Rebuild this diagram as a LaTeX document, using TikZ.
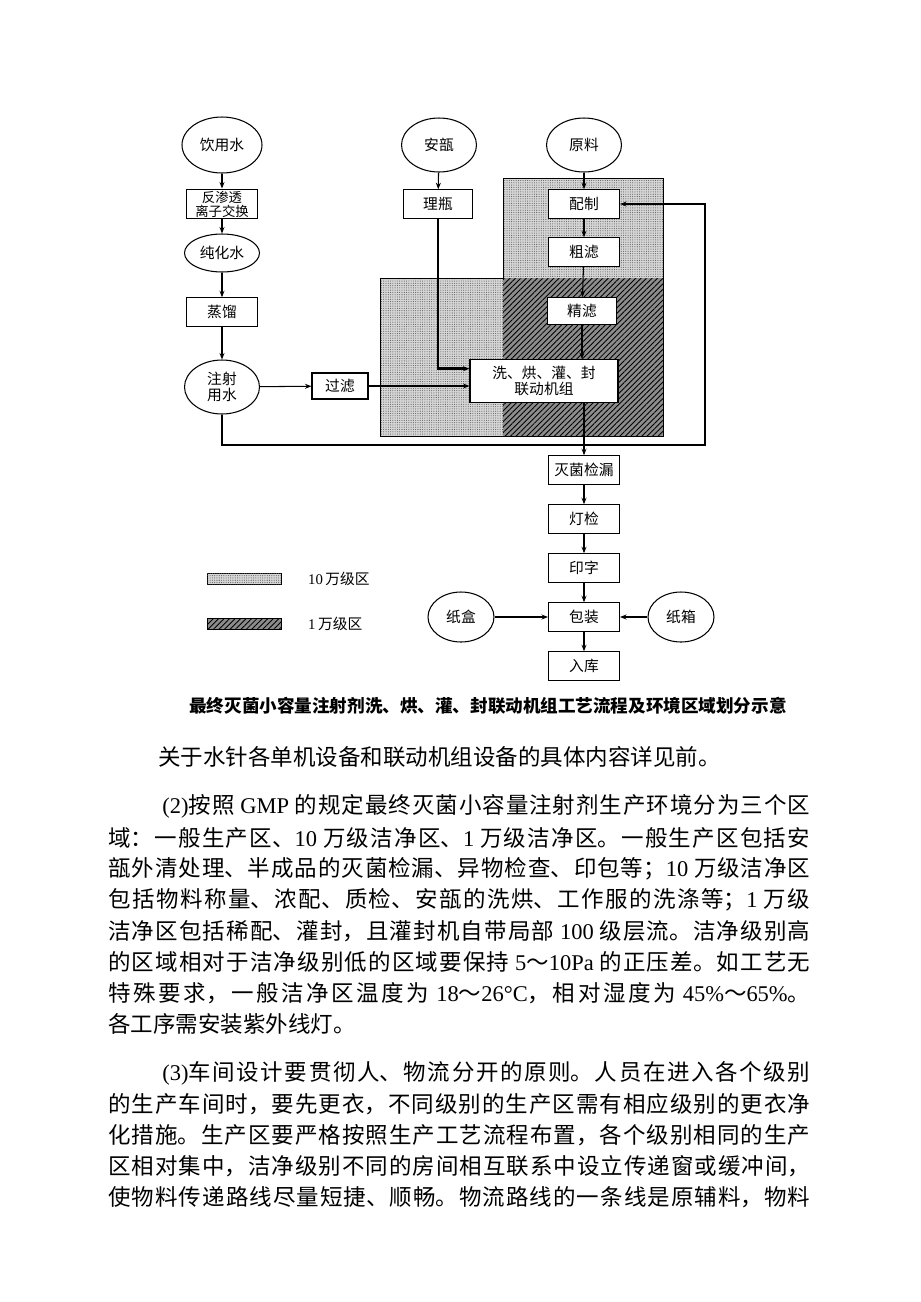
\documentclass[tikz,border=0pt]{standalone}
\usepackage{fontspec}
\setmainfont{Liberation Serif}
\newfontfamily\cjk{Noto Sans CJK SC}
\usetikzlibrary{positioning,arrows.meta,shapes.geometric,patterns.meta}
\XeTeXlinebreaklocale "zh"
\XeTeXlinebreakskip = 0pt plus 2pt
\newcommand\lat[1]{{\rmfamily #1}}
\newcommand\fullln[1]{\parbox{14.04cm}{\parfillskip=0pt #1}}
\newcommand\indln[1]{\parbox{12.96cm}{\parfillskip=0pt #1}}

\begin{document}
\begin{tikzpicture}[
  x=0.02cm, y=-0.02cm,
  font=\cjk\fontsize{8.4}{9.5}\selectfont,
  >={Stealth[length=1.3mm, width=1mm]},
  block/.style={draw, semithick, fill=white, minimum width=1.42cm,
                minimum height=0.57cm, inner sep=1pt, align=center},
  src/.style={draw, semithick, ellipse, fill=white, minimum width=1.5cm,
              minimum height=1.08cm, inner sep=0pt, align=center},
  flow/.style={->, semithick},
  main/.style={line width=1.6pt},
  lightzone/.style={fill=black!16,
    postaction={pattern={Dots[distance=1.3pt, radius=0.3pt]}, pattern color=black!65}},
  darkzone/.style={fill=black!45,
    postaction={pattern={Lines[angle=45, distance=2.2pt, line width=0.5pt]}, pattern color=black}},
  swatch/.style={draw, thin, minimum width=1.48cm, minimum height=0.22cm, inner sep=0pt},
  para/.style={anchor=west, inner sep=0pt, font=\cjk\fontsize{12.8}{15}\selectfont}
]
\useasboundingbox (0,0) rectangle (920,1302);

% ---------- 洁净区 (背景) ----------
\fill[lightzone] (503,178) rectangle (663,278);
\fill[lightzone] (380,278) rectangle (503,436);
\fill[darkzone]  (503,278) rectangle (663,436);
\draw[thin] (503,178) -| (663,436) -| (380,278) -| (503,178);

% ---------- 水处理 ----------
\node[src, minimum width=1.6cm, minimum height=1.12cm] (yys) at (222,145) {饮用水};
\node[block, font=\cjk\fontsize{7.6}{8}\selectfont] (fst) at (222,204) {反渗透\\离子交换};
\node[src, minimum height=0.76cm] (chs) at (222,253) {纯化水};
\node[block]  (zl)   at (222,312) {蒸馏};
\node[src]    (zsys) at (222,387) {注射\\用水};
\node[block, minimum width=1.12cm, minimum height=0.52cm] (gl) at (340,386) {过滤};

% ---------- 安瓿 / 原料 ----------
\node[src]   (ap) at (439,145) {安瓿};
\node[block, minimum width=1.38cm] (lp) at (438,204) {理瓶};
\node[src]   (yl) at (584,145) {原料};
\node[block] (pz) at (584,204) {配制};
\node[block] (cl) at (584,252) {粗滤};
\node[block, minimum width=1.38cm, minimum height=0.54cm] (jl) at (582,311) {精滤};
\node[block, minimum width=2.96cm, minimum height=0.86cm] (lj) at (544,381)
      {洗、烘、灌、封\\联动机组};

% ---------- 后段 ----------
\node[block] (mj) at (584,470) {灭菌检漏};
\node[block] (dj) at (584,519) {灯检};
\node[block] (yz) at (584,568) {印字};
\node[block] (bz) at (584,617) {包装};
\node[block] (rk) at (584,666) {入库};
\node[src, minimum width=1.32cm, minimum height=1.0cm] (zh) at (461,617) {纸盒};
\node[src, minimum width=1.32cm, minimum height=1.0cm] (zx) at (681,617) {纸箱};

% ---------- 连线 ----------
\draw[flow] (yys) -- (fst);
\draw[flow] (fst) -- (chs);
\draw[flow] (chs) -- (zl);
\draw[flow] (zl)  -- (zsys);
\draw[flow] (zsys) -- (gl);
\draw[flow] (gl)  -- (gl -| lj.west);
\draw[flow] (ap)  -- (lp);
\draw[main,->] (lp) |- ([yshift=7pt]lj.west);
\draw[flow] (yl)  -- (pz);
\draw[flow] (pz)  -- (cl);
\draw[flow] (cl)  -- (jl);
\draw[flow] (jl)  -- (jl |- lj.north);
\draw[flow] (lj.south -| mj) -- (mj);
\draw[flow] (mj)  -- (dj);
\draw[flow] (dj)  -- (yz);
\draw[flow] (yz)  -- (bz);
\draw[flow] (bz)  -- (rk);
\draw[flow] (zh)  -- (bz);
\draw[flow] (zx)  -- (bz);

% ---------- 注射用水 -> 配制 ----------
\coordinate (lb) at (705,445);
\draw[main,->] (zsys.south) |- (lb) |- (pz.east);

% ---------- 图例 ----------
\node[swatch, lightzone] (sw10) at (244,579) {};
\node[swatch, darkzone]  (sw1)  at (244,624) {};
\node[anchor=west] (lg10) at (302,579) {\lat{10}\,万级区};
\node[anchor=west] (lg1)  at (302,624) {\lat{1}\,万级区};

\node[font=\cjk\bfseries\fontsize{10}{12}\selectfont] (cap) at (488,706)
      {最终灭菌小容量注射剂洗、烘、灌、封联动机组工艺流程及环境区域划分示意};

% ---------- 正文 ----------
\node[para] (t1)  at (158,757)  {关于水针各单机设备和联动机组设备的具体内容详见前。};
\node[para] (t2)  at (162,806)  {\indln{\lat{(2)}按照 \lat{GMP} 的规定最终灭菌小容量注射剂生产环境分为三个区}};
\node[para] (t3)  at (108,838)  {\fullln{域：一般生产区、\lat{10} 万级洁净区、\lat{1} 万级洁净区。一般生产区包括安}};
\node[para] (t4)  at (108,869)  {\fullln{瓿外清处理、半成品的灭菌检漏、异物检查、印包等；\lat{10} 万级洁净区}};
\node[para] (t5)  at (108,900)  {\fullln{包括物料称量、浓配、质检、安瓿的洗烘、工作服的洗涤等；\lat{1} 万级}};
\node[para] (t6)  at (108,931)  {\fullln{洁净区包括稀配、灌封，且灌封机自带局部 \lat{100} 级层流。洁净级别高}};
\node[para] (t7)  at (108,962)  {\fullln{的区域相对于洁净级别低的区域要保持 \lat{5}～\lat{10Pa} 的正压差。如工艺无}};
\node[para] (t8)  at (108,993)  {\fullln{特殊要求，一般洁净区温度为 \lat{18}～\lat{26°C}，相对湿度为 \lat{45\%}～\lat{65\%}。}};
\node[para] (t9)  at (108,1024) {各工序需安装紫外线灯。};
\node[para] (t10) at (162,1073) {\indln{\lat{(3)}车间设计要贯彻人、物流分开的原则。人员在进入各个级别}};
\node[para] (t11) at (108,1104) {\fullln{的生产车间时，要先更衣，不同级别的生产区需有相应级别的更衣净}};
\node[para] (t12) at (108,1135) {\fullln{化措施。生产区要严格按照生产工艺流程布置，各个级别相同的生产}};
\node[para] (t13) at (108,1166) {\fullln{区相对集中，洁净级别不同的房间相互联系中设立传递窗或缓冲间，}};
\node[para] (t14) at (108,1197) {\fullln{使物料传递路线尽量短捷、顺畅。物流路线的一条线是原辅料，物料}};

\end{tikzpicture}
\end{document}
